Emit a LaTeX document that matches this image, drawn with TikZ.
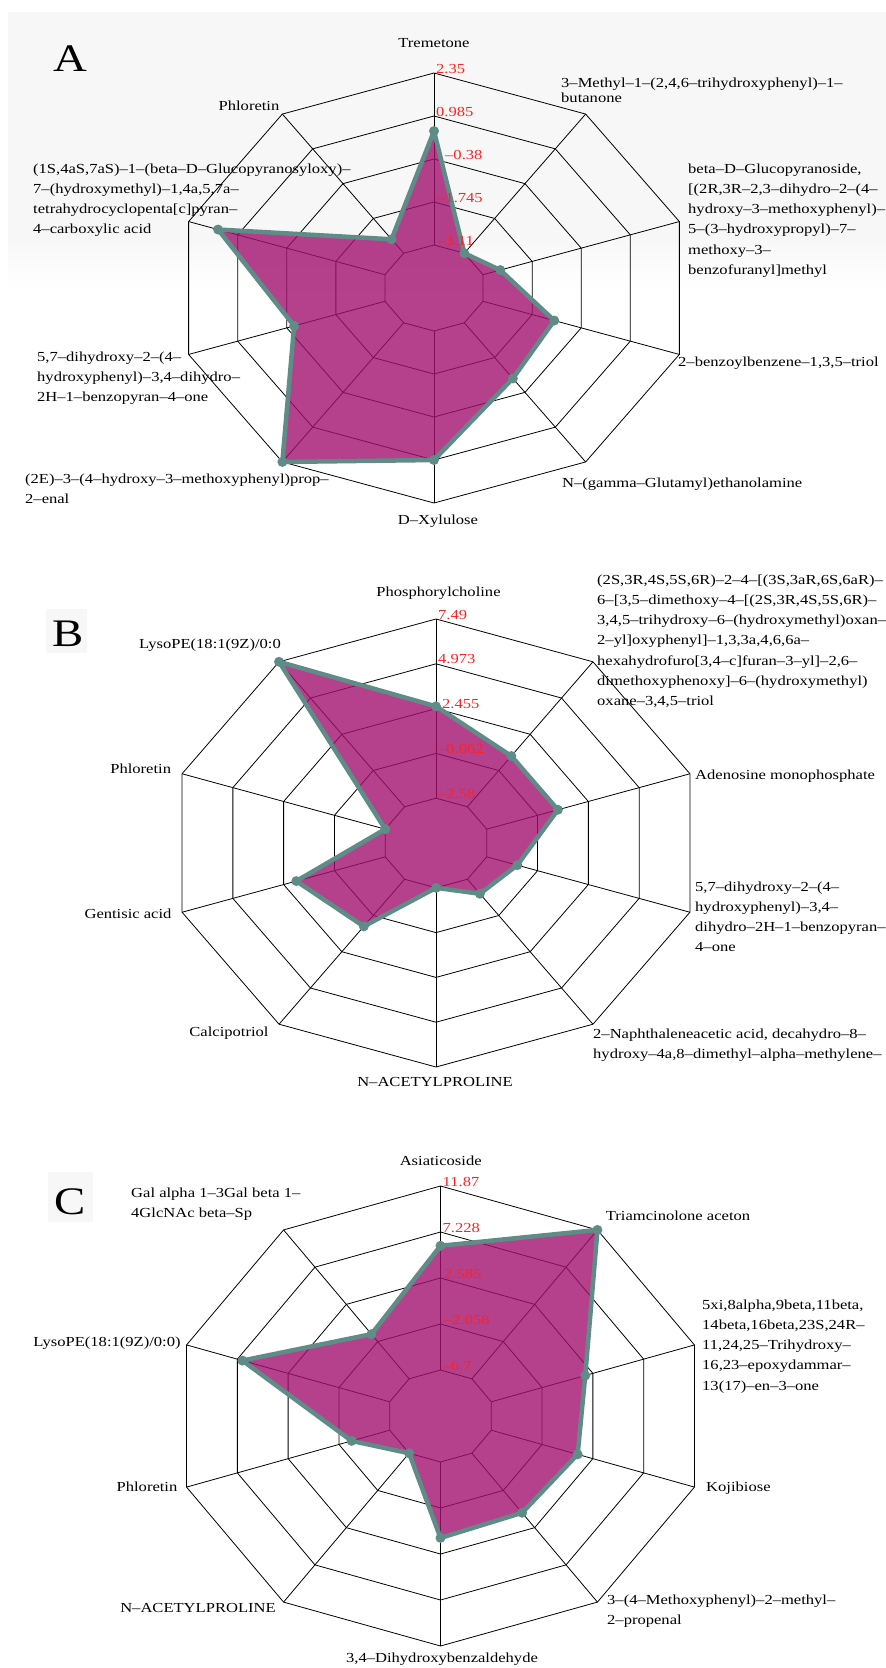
\documentclass[tikz,border=0pt]{standalone}
\usepackage{fontspec}
\setmainfont{Liberation Serif}[FakeStretch=1.2]
\usepackage{tikz}

\definecolor{radarfill}{HTML}{A2106F}
\definecolor{radarline}{HTML}{5F8C87}
\definecolor{panelgray}{HTML}{F7F7F7}
\definecolor{ringred}{HTML}{FF2222}

\tikzset{
  gridline/.style={black, line width=0.8pt},
  axlabel/.style={font=\fontsize{13.8}{20.3}\selectfont, inner sep=0pt},
  multilabel/.style={axlabel, align=left, anchor=base west},
  ringlabel/.style={axlabel, text=ringred, anchor=base west},
  panelletter/.style={font=\fontsize{39}{39}\selectfont, inner sep=0pt, anchor=base}
}

% grid: centre x, centre y, radius x, radius y
\newcommand{\radargrid}[4]{%
  \foreach \k in {1,...,5}
    \draw[gridline] ({#1},{#2-\k/5*#4})
      \foreach \i in {1,...,9} { -- ({#1+\k/5*#3*cos(90-36*\i)},{#2-\k/5*#4*sin(90-36*\i)}) } -- cycle;
  \foreach \i in {0,...,9}
    \draw[gridline] ({#1+#3/5*cos(90-36*\i)},{#2-#4/5*sin(90-36*\i)})
      -- ({#1+#3*cos(90-36*\i)},{#2-#4*sin(90-36*\i)});
}

% data polygon: name, centre x, centre y, radius x, radius y, values
\newcommand{\radardata}[6]{%
  \foreach \f [count=\i from 0] in {#6}
    \coordinate (#1-\i) at ({#2+\f*#4*cos(90-36*\i)},{#3-\f*#5*sin(90-36*\i)});
  \fill[radarfill, fill opacity=0.8] (#1-0) \foreach \i in {1,...,9} { -- (#1-\i) } -- cycle;
  \draw[radarline, line width=4.5pt, line join=round] (#1-0) \foreach \i in {1,...,9} { -- (#1-\i) } -- cycle;
  \foreach \i in {0,...,9}
    \fill[radarline] (#1-\i) circle (5pt);
}

\begin{document}
\begin{tikzpicture}[x=1pt, y=-1pt]
    \useasboundingbox (0,0) rectangle (886,1668);

    % Panel A background
    \fill[panelgray] (8,12) rectangle (886,235);
    \shade[top color=panelgray, bottom color=white] (8,235) rectangle (886,290);

    % Panel A (multi-line labels sit on their last line)
    \radargrid{434}{288}{258}{215}
    \radardata{a}{434}{288}{258}{215}{0.73,0.2,0.27,0.49,0.52,0.8,1.0,0.57,0.88,0.28}
    \node[panelletter] (a-letter) at (70,71) {A};
    \node[ringlabel] (a-r5) at (436,73) {2.35};
    \node[ringlabel] (a-r4) at (436,116) {0.985};
    \node[ringlabel] (a-r3) at (445,159) {--0.38};
    \node[ringlabel] (a-r2) at (437,202) {--1.745};
    \node[ringlabel] (a-r1) at (437,245) {--3.11};
    \node[axlabel] (a-trem) at (434,43) {Tremetone};
    \node[multilabel, font=\fontsize{13.8}{15.3}\selectfont] (a-meth) at (561,102.3)
      {3--Methyl--1--(2,4,6--trihydroxyphenyl)--1--\\butanone};
    \node[multilabel] (a-gluc) at (688,274.5)
      {beta--D--Glucopyranoside,\\{}[(2R,3R--2,3--dihydro--2--(4--\\hydroxy--3--methoxyphenyl)--\\5--(3--hydroxypropyl)--7--\\methoxy--3--\\benzofuranyl]methyl};
    \node[axlabel, anchor=west] (a-benz) at (678,363) {2--benzoylbenzene--1,3,5--triol};
    \node[axlabel, anchor=west] (a-glut) at (562,484) {N--(gamma--Glutamyl)ethanolamine};
    \node[axlabel] (a-xyl) at (438,521) {D--Xylulose};
    \node[multilabel] (a-prop) at (25,503.3)
      {(2E)--3--(4--hydroxy--3--methoxyphenyl)prop--\\2--enal};
    \node[multilabel] (a-dihy) at (37,401.6)
      {5,7--dihydroxy--2--(4--\\hydroxyphenyl)--3,4--dihydro--\\2H--1--benzopyran--4--one};
    \node[multilabel] (a-carb) at (33,233.9)
      {(1S,4aS,7aS)--1--(beta--D--Glucopyranosyloxy)--\\7--(hydroxymethyl)--1,4a,5,7a--\\tetrahydrocyclopenta[c]pyran--\\4--carboxylic acid};
    \node[axlabel] (a-phlo) at (249,105.6) {Phloretin};

    % Panel B
    \fill[panelgray] (46,609) rectangle (87,653);
    \radargrid{436}{843}{267}{224}
    \radardata{b}{436}{843}{267}{224}{0.61,0.48,0.48,0.32,0.28,0.2,0.46,0.55,0.2,1.0}
    \node[panelletter] (b-letter) at (68,646) {B};
    \node[ringlabel] (b-r5) at (438,619) {7.49};
    \node[ringlabel] (b-r4) at (438,663.8) {4.973};
    \node[ringlabel] (b-r3) at (442,708.6) {2.455};
    \node[ringlabel] (b-r2) at (438,753.4) {--0.062};
    \node[ringlabel] (b-r1) at (438,798.2) {--2.58};
    \node[axlabel] (b-phos) at (438.5,593) {Phosphorylcholine};
    \node[multilabel] (b-trio) at (597,705.8)
      {(2S,3R,4S,5S,6R)--2--4--[(3S,3aR,6S,6aR)--\\6--[3,5--dimethoxy--4--[(2S,3R,4S,5S,6R)--\\3,4,5--trihydroxy--6--(hydroxymethyl)oxan--\\2--yl]oxyphenyl]--1,3,3a,4,6,6a--\\hexahydrofuro[3,4--c]furan--3--yl]--2,6--\\dimethoxyphenoxy]--6--(hydroxymethyl)\\oxane--3,4,5--triol};
    \node[axlabel, anchor=west] (b-aden) at (695,776) {Adenosine monophosphate};
    \node[multilabel] (b-dihy) at (695,951.9)
      {5,7--dihydroxy--2--(4--\\hydroxyphenyl)--3,4--\\dihydro--2H--1--benzopyran--\\4--one};
    \node[multilabel] (b-naph) at (593,1058.3)
      {2--Naphthaleneacetic acid, decahydro--8--\\hydroxy--4a,8--dimethyl--alpha--methylene--};
    \node[axlabel] (b-acet) at (435,1082) {N--ACETYLPROLINE};
    \node[axlabel] (b-calc) at (229,1033) {Calcipotriol};
    \node[axlabel] (b-gent) at (128,913.6) {Gentisic acid};
    \node[axlabel] (b-phlo) at (140.7,769) {Phloretin};
    \node[axlabel] (b-lyso) at (210,645) {LysoPE(18:1(9Z)/0:0};

    % Panel C
    \fill[panelgray] (48,1172) rectangle (93,1222);
    \radargrid{440.5}{1416}{267}{230}
    \radardata{c}{440.5}{1416}{267}{230}{0.74,1.0,0.57,0.54,0.52,0.53,0.2,0.35,0.78,0.44}
    \node[panelletter] (c-letter) at (70,1214) {C};
    \node[ringlabel] (c-r5) at (442.5,1186) {11.87};
    \node[ringlabel] (c-r4) at (442.5,1232) {7.228};
    \node[ringlabel] (c-r3) at (444,1278) {2.585};
    \node[ringlabel] (c-r2) at (444,1324) {--2.058};
    \node[ringlabel] (c-r1) at (442.5,1370) {--6.7};
    \node[axlabel] (c-asia) at (440.7,1160.5) {Asiaticoside};
    \node[axlabel, anchor=west] (c-tria) at (605.7,1216) {Triamcinolone aceton};
    \node[multilabel] (c-damm) at (702,1390.2)
      {5xi,8alpha,9beta,11beta,\\14beta,16beta,23S,24R--\\11,24,25--Trihydroxy--\\16,23--epoxydammar--\\13(17)--en--3--one};
    \node[axlabel, anchor=west] (c-koji) at (706,1488) {Kojibiose};
    \node[multilabel] (c-meth) at (607,1624.9)
      {3--(4--Methoxyphenyl)--2--methyl--\\2--propenal};
    \node[axlabel] (c-dihy) at (442,1659.5) {3,4--Dihydroxybenzaldehyde};
    \node[axlabel] (c-acet) at (198,1608) {N--ACETYLPROLINE};
    \node[axlabel] (c-phlo) at (147,1487) {Phloretin};
    \node[axlabel] (c-lyso) at (107,1343) {LysoPE(18:1(9Z)/0:0)};
    \node[multilabel] (c-gal) at (131,1217.9)
      {Gal alpha 1--3Gal beta 1--\\4GlcNAc beta--Sp};
\end{tikzpicture}
\end{document}
